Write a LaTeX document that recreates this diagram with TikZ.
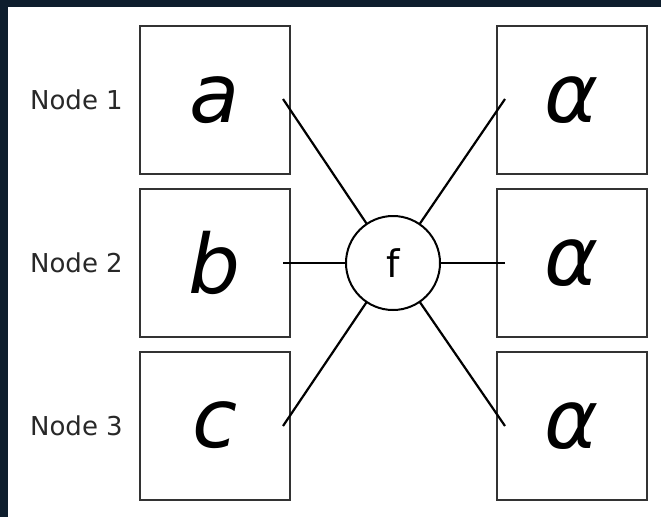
\documentclass[tikz,border=0pt]{standalone}
\usepackage{fontspec}
\setmainfont{DejaVu Sans}
\definecolor{navy}{RGB}{14,30,45}
\definecolor{labelgray}{RGB}{40,40,40}
\begin{document}
\begin{tikzpicture}[x=1pt,y=-1pt,
  cell/.style={draw=black!80, line width=2pt, fill=white, minimum width=150pt, minimum height=148pt, inner sep=0pt, outer sep=0pt,
    font=\fontsize{82}{82}\selectfont\itshape},
  lab/.style={anchor=east, text=labelgray, font=\fontsize{26}{26}\selectfont, inner sep=0pt},
  fun/.style={circle, draw=black, line width=2pt, fill=white, minimum size=94pt, inner sep=0pt, outer sep=0pt,
    font=\fontsize{38}{38}\selectfont},
  wire/.style={line width=2.2pt, draw=black}]
\useasboundingbox (0,0) rectangle (661,517);
\fill[navy] (0,0) rectangle (661,517);
\fill[white] (8,7) rectangle (661,517);
% boxes
\node[cell] (a) at (215,100) {a};
\node[cell] (b) at (215,262.5) {b};
\node[cell] (c) at (215,425.5) {c};
\node[cell] (r1) at (572,100) {α};
\node[cell] (r2) at (572,262.5) {α};
\node[cell] (r3) at (572,425.5) {α};
% labels
\node[lab] (l1) at (123,100) {Node 1};
\node[lab] (l2) at (123,263) {Node 2};
\node[lab] (l3) at (123,426) {Node 3};
% function node
\node[fun] (f) at (393,263) {f};
% connector end points inside boxes
\coordinate (pa) at (283,99);
\coordinate (pb) at (283,263);
\coordinate (pc) at (283,426);
\coordinate (q1) at (505,99);
\coordinate (q2) at (505,263);
\coordinate (q3) at (505,426);
\draw[wire] (pa) -- (f);
\draw[wire] (pb) -- (f);
\draw[wire] (pc) -- (f);
\draw[wire] (q1) -- (f);
\draw[wire] (q2) -- (f);
\draw[wire] (q3) -- (f);
\end{tikzpicture}
\end{document}
